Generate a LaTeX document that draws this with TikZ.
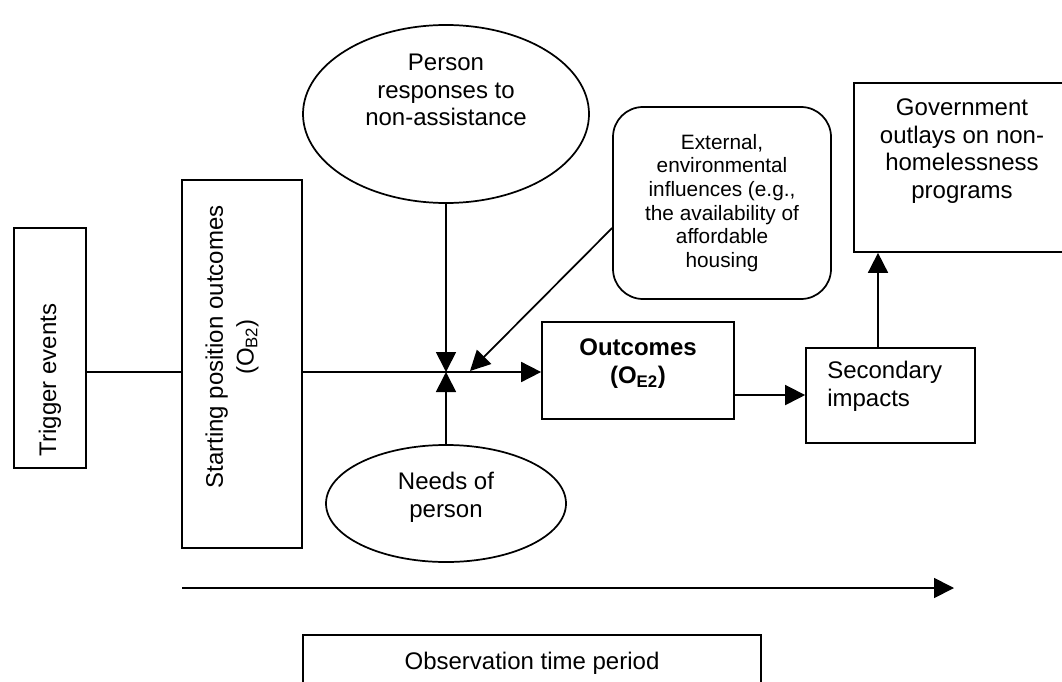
\documentclass[tikz,border=0pt]{standalone}
\usepackage{fontspec}
\setmainfont{Liberation Sans}
\usetikzlibrary{shapes.geometric,arrows.meta}
\begin{document}
\begin{tikzpicture}[x=0.75pt,y=-0.75pt,
  box/.style={draw, line width=1.3pt, inner sep=0pt},
  lbl/.style={font=\fontsize{18}{20.6}\selectfont, align=center, inner sep=0pt},
  small/.style={font=\fontsize{15.6}{17.7}\selectfont, align=center, inner sep=0pt},
  arr/.style={line width=1.3pt, -{Triangle[length=15pt,width=15pt]}},
  ln/.style={line width=1.3pt}]
\clip (0,0) rectangle (1062,681);
\fill[white] (0,0) rectangle (1062,681);
% boxes
\node[box, minimum width=54pt, minimum height=180pt] (trig) at (50,348) {};
\node[box, minimum width=90pt, minimum height=276pt] (start) at (242,364) {};
\node[box, ellipse, minimum width=214.5pt, minimum height=133.5pt] (topell) at (446,114) {};
\node[box, ellipse, minimum width=180pt, minimum height=87.75pt] (botell) at (446,503.5) {};
\node[box, rounded corners=22.5pt, minimum width=163.5pt, minimum height=144pt, small] (ext) at (722,203)
  {External,\\environmental\\influences (e.g.,\\the availability of\\affordable\\housing};
\node[box, minimum width=144pt, minimum height=72.75pt] (outc) at (638,370.5) {};
\node[box, minimum width=126.75pt, minimum height=71.25pt] (sec) at (890.5,395.5) {};
\node[box, minimum width=163.5pt, minimum height=126.75pt] (gov) at (963,167.5) {};
\node[box, minimum width=343.5pt, minimum height=63.75pt] (obs) at (532,677.5) {};
% texts
\node[lbl, rotate=90] (trigt) at (50,380) {Trigger events};
\node[lbl, rotate=90] (startt) at (232,347) {Starting position outcomes\\[2.5pt](O\textsubscript{B2})};
\node[lbl] (topt) at (446,90) {Person\\responses to\\non-assistance};
\node[lbl] (bott) at (446,497.5) {Needs of\\person};
\node[lbl, font=\fontsize{18}{21.5}\selectfont\bfseries] (outct) at (638,363.5) {Outcomes\\(O\textsubscript{E2})};
\node[lbl, align=left, anchor=west] (sect) at (827,386.5) {Secondary\\impacts};
\node[lbl] (govt) at (962,151) {Government\\outlays on non-\\homelessness\\programs};
\node[lbl] (obst) at (532,663) {Observation time period};
% connectors
\coordinate (J) at (446,372);
\coordinate (J2) at (470,371);
\coordinate (G) at (878,0);
\coordinate (t0) at (182,588);
\coordinate (t1) at (954,588);
\coordinate (E1) at ([yshift=-18.75pt]ext.west);
\coordinate (O1) at ([yshift=-18.4pt]outc.east);
\draw[ln] (trig.east |- J) -- (start.west |- J);
\draw[ln] (start.east |- J) -- (J);
\draw[arr] (topell.south) -- (J);
\draw[arr] (botell.north) -- (J);
\draw[arr] (J) -- (outc.west |- J);
\draw[arr] (E1) -- (J2);
\draw[arr] (O1) -- (sec.west |- O1);
\draw[arr] (sec.north -| G) -- (gov.south -| G);
\draw[arr] (t0) -- (t1);
\end{tikzpicture}
\end{document}
